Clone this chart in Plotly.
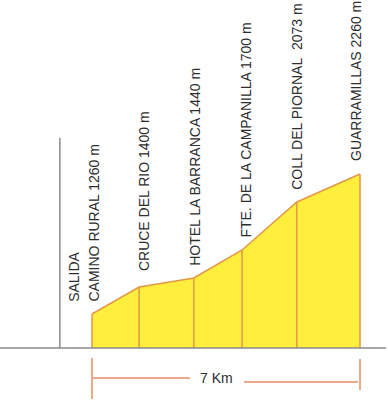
import plotly.graph_objects as go

# Stations along the route
estaciones = ["CAMINO RURAL 1260 m", "CRUCE DEL RIO 1400 m", "HOTEL LA BARRANCA 1440 m",
              "FTE. DE LA CAMPANILLA 1700 m", "COLL DEL PIORNAL\u00a0 2073 m", "GUARRAMILLAS 2260 m"]
distancia_km = [0.0, 1.23, 2.66, 3.92, 5.35, 7.0]
# drawn profile heights (relative units, as read from the picture; not to scale)
altura_perfil = [34, 61, 70, 98, 146, 174]
salida_km = -0.84
salida_altura = 210
total_km = 7
total_label = "7 Km"

label_xshift = [1, 5, 1, 3, 0, -4]
label_yshift = [11, 15, 11, 11, 11, 12]

YELLOW = "#FFEE3C"
ORANGE = "#E2974A"
GRAY = "#8A8A8A"
SALMON = "#EBAA8C"
TXT = "#2E2E2E"

fig = go.Figure()

# profile area
fig.add_trace(go.Scatter(x=distancia_km, y=altura_perfil, mode="lines",
                         fill="tozeroy", fillcolor=YELLOW,
                         line=dict(color=ORANGE, width=1.5), hoverinfo="skip"))
# vertical dividers
vx, vy = [], []
for d, h in zip(distancia_km, altura_perfil):
    vx += [d, d, None]
    vy += [0, h, None]
fig.add_trace(go.Scatter(x=vx, y=vy, mode="lines", line=dict(color=ORANGE, width=1.5),
                         hoverinfo="skip"))

# gray start line and baseline
fig.add_shape(type="line", x0=salida_km, x1=salida_km, y0=0, y1=salida_altura,
              line=dict(color=GRAY, width=1.5))
fig.add_shape(type="line", xref="paper", x0=0, x1=0.995, yref="y", y0=0, y1=0,
              line=dict(color=GRAY, width=1.5))

# labels
font = dict(family="Liberation Sans, Arial, sans-serif", size=14, color=TXT)
fig.add_annotation(x=salida_km, y=altura_perfil[0], text="SALIDA", textangle=-90,
                   showarrow=False, xanchor="center", yanchor="bottom",
                   xshift=86 - 60 - 12, yshift=11, font=font, borderpad=0)
for name, d, h, xs, ys in zip(estaciones, distancia_km, altura_perfil, label_xshift, label_yshift):
    fig.add_annotation(x=d, y=h, text=name, textangle=-90, showarrow=False,
                       xanchor="center", yanchor="bottom", xshift=xs, yshift=ys,
                       font=font, borderpad=0)

# distance bracket
fig.add_shape(type="line", x0=0, x1=0, y0=-10, y1=-51, line=dict(color=SALMON, width=2))
fig.add_shape(type="line", x0=total_km, x1=total_km, y0=-11, y1=-42, line=dict(color=SALMON, width=2))
fig.add_shape(type="line", x0=0, x1=2.56, y0=-30, y1=-30, line=dict(color=SALMON, width=2))
fig.add_shape(type="line", x0=3.97, x1=6.95, y0=-34, y1=-34, line=dict(color=SALMON, width=2))
fig.add_annotation(x=3.24, y=-30, text=total_label, showarrow=False, xanchor="center",
                   yanchor="middle", font=font, borderpad=0)

fig.update_layout(
    width=388, height=406, margin=dict(l=0, r=0, t=0, b=0),
    paper_bgcolor="white", plot_bgcolor="white", showlegend=False,
    xaxis=dict(range=[-92 * 7 / 268, (388 - 92) * 7 / 268], visible=False, fixedrange=True),
    yaxis=dict(range=[-58, 348], visible=False, fixedrange=True),
)

fig.write_html("out.html", config={"displayModeBar": False})
